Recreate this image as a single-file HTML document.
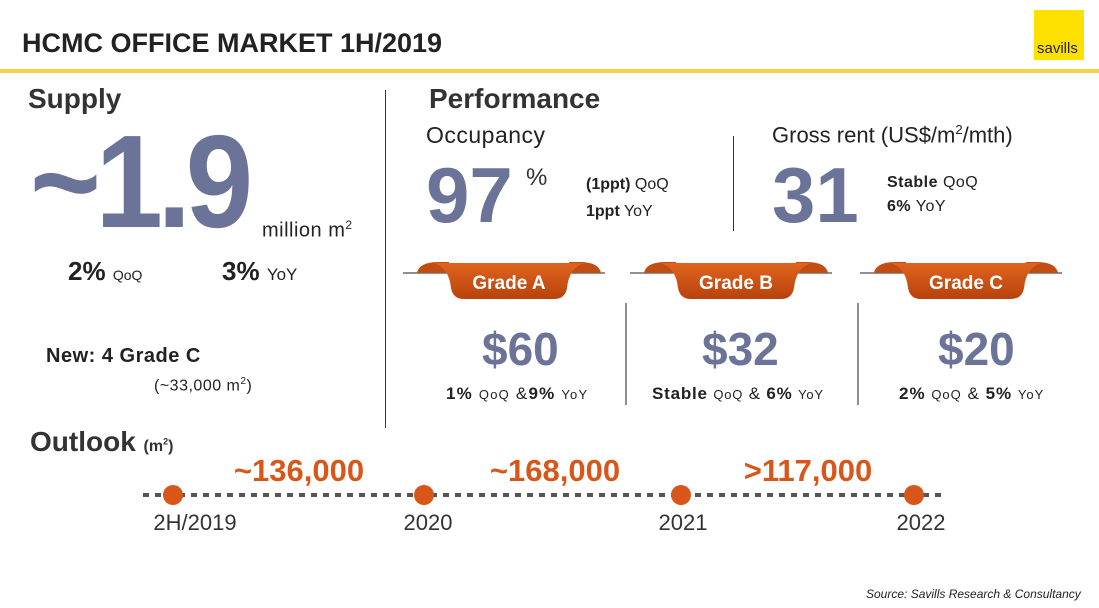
<!DOCTYPE html>
<html><head><meta charset="utf-8"><style>
body{margin:0;width:1099px;height:608px;background:#fff;font-family:"Liberation Sans",Arial,sans-serif;position:relative;overflow:hidden}
.a{position:absolute;white-space:nowrap}
.big{color:#6b7398;font-weight:bold}
.b{font-weight:bold}
.s{font-size:14px}
</style></head><body>
<div class="a b" style="left:22px;top:28px;font-size:27px;color:#222">HCMC OFFICE MARKET 1H/2019</div>
<div class="a" style="left:0;top:69px;width:1099px;height:4px;background:#f5d547"></div>
<div class="a" style="left:1034px;top:10px;width:50px;height:50px;background:#ffe100"><span style="position:absolute;left:3px;bottom:3px;font-size:15px;color:#222">savills</span></div>

<div class="a b" style="left:28px;top:83px;font-size:28px;color:#333">Supply</div>
<div class="a big" style="left:30px;top:112px;font-size:132px;letter-spacing:-6px;line-height:140px;transform:scaleX(0.92);transform-origin:left top">~1.9</div>
<div class="a" style="left:262px;top:218px;font-size:20px;color:#222;letter-spacing:0.5px">million m<sup style="font-size:12px">2</sup></div>
<div class="a" style="left:68px;top:256px;font-size:26px;color:#222"><b>2%</b> <span class="s">QoQ</span></div>
<div class="a" style="left:222px;top:256px;font-size:26px;color:#222"><b>3%</b> <span style="font-size:17px">YoY</span></div>
<div class="a b" style="left:46px;top:345px;font-size:20px;color:#222;letter-spacing:0.5px">New: 4 Grade C</div>
<div class="a" style="left:154px;top:376px;font-size:16px;color:#222;letter-spacing:0.5px">(~33,000 m<sup style="font-size:10px">2</sup>)</div>
<div class="a" style="left:385px;top:90px;width:1px;height:338px;background:#333"></div>

<div class="a b" style="left:429px;top:83px;font-size:28px;color:#333">Performance</div>
<div class="a" style="left:426px;top:122px;font-size:23px;color:#222;letter-spacing:0.5px">Occupancy</div>
<div class="a big" style="left:426px;top:150px;font-size:78px">97</div>
<div class="a" style="left:526px;top:164px;font-size:24px;color:#333">%</div>
<div class="a" style="left:586px;top:176px;font-size:16px;color:#222"><b>(1ppt)</b> QoQ</div>
<div class="a" style="left:586px;top:203px;font-size:16px;color:#222"><b>1ppt</b> YoY</div>
<div class="a" style="left:733px;top:136px;width:1px;height:95px;background:#333"></div>
<div class="a" style="left:772px;top:122px;font-size:22px;color:#222">Gross rent (US$/m<sup style="font-size:13px">2</sup>/mth)</div>
<div class="a big" style="left:772px;top:150px;font-size:78px">31</div>
<div class="a" style="left:887px;top:174px;font-size:16px;color:#222;letter-spacing:0.5px"><b>Stable</b> QoQ</div>
<div class="a" style="left:887px;top:198px;font-size:16px;color:#222;letter-spacing:0.5px"><b>6%</b> YoY</div>

<svg class="a" style="left:0;top:0" width="1099" height="608">
<defs><linearGradient id="g" x1="0" y1="0" x2="0" y2="1"><stop offset="0" stop-color="#e0641f"/><stop offset="1" stop-color="#b8420c"/></linearGradient></defs>
<g id="rib"></g>
<line x1="626" y1="303" x2="626" y2="405" stroke="#222"/>
<line x1="858" y1="303" x2="858" y2="405" stroke="#222"/>
<g id="tl"></g>
</svg>

<div class="a big" style="left:482px;top:322px;font-size:46px">$60</div>
<div class="a" style="left:446px;top:384px;font-size:17px;color:#222;letter-spacing:1.2px"><b>1%</b> <span style="font-size:13px">QoQ</span> &amp;<b>9%</b> <span style="font-size:13px">YoY</span></div>
<div class="a big" style="left:702px;top:322px;font-size:46px">$32</div>
<div class="a" style="left:652px;top:384px;font-size:17px;color:#222;letter-spacing:0.8px"><b>Stable</b> <span style="font-size:13px">QoQ</span> &amp; <b>6%</b> <span style="font-size:13px">YoY</span></div>
<div class="a big" style="left:938px;top:322px;font-size:46px">$20</div>
<div class="a" style="left:899px;top:384px;font-size:17px;color:#222;letter-spacing:1px"><b>2%</b> <span style="font-size:13px">QoQ</span> &amp; <b>5%</b> <span style="font-size:13px">YoY</span></div>

<div class="a b" style="left:30px;top:426px;font-size:28px;color:#333">Outlook <span style="font-size:16px">(m<sup style="font-size:9px">2</sup>)</span></div>
<div class="a" style="left:866px;top:587px;font-size:12px;font-style:italic;color:#222">Source: Savills Research &amp; Consultancy</div>

<script>
const grades=["Grade A","Grade B","Grade C"];
const gradeX=[509,736,966];
const periods=["2H/2019","2020","2021","2022"];
const supplyLabels=["~136,000","~168,000",">117,000"];
const NS="http://www.w3.org/2000/svg";
function mk(t,a,p){const e=document.createElementNS(NS,t);for(const k in a)e.setAttribute(k,a[k]);p.appendChild(e);return e;}
const rib=document.getElementById('rib');
grades.forEach((g,i)=>{const c=gradeX[i];
 mk('line',{x1:c-106,y1:273,x2:c+96,y2:273,stroke:'#222'},rib);
 mk('path',{d:`M${c-92} 273 Q${c-90} 262 ${c-70} 262 L${c-60} 262 L${c-60} 273 Z`,fill:'#c14d12'},rib);
 mk('path',{d:`M${c+92} 273 Q${c+90} 262 ${c+70} 262 L${c+60} 262 L${c+60} 273 Z`,fill:'#c14d12'},rib);
 const b=mk('path',{d:`M${c-75} 263 L${c+75} 263 Q${c+60} 268 ${c+58} 288 Q${c+56} 299 ${c+45} 299 L${c-45} 299 Q${c-56} 299 ${c-58} 288 Q${c-60} 268 ${c-75} 263 Z`,fill:'url(#g)'},rib);
 
 
 const t=mk('text',{x:c,y:289,'text-anchor':'middle','font-size':19,'font-weight':'bold',fill:'#fff','font-family':'Liberation Sans'},rib);t.textContent=g;
 
 
});
const tl=document.getElementById('tl');
const dotX=[173,424,681,914];
const labX=[195,428,683,921];
const supX=[299,555,808];
mk('line',{x1:143,y1:495,x2:945,y2:495,stroke:'#555','stroke-width':4,'stroke-dasharray':'6 6'},tl);
periods.forEach((p,i)=>{const x=dotX[i];
 const d=mk('circle',{cx:x,cy:495,r:10,fill:'#d9561a'},tl);
 
 
 const t=mk('text',{x:labX[i],y:530,'text-anchor':'middle','font-size':22,fill:'#333','font-family':'Liberation Sans'},tl);t.textContent=p;
 
 
});
supplyLabels.forEach((s,i)=>{
 const t=mk('text',{x:supX[i],y:481,'text-anchor':'middle','font-size':31,'font-weight':'bold',fill:'#d9561a','font-family':'Liberation Sans'},tl);t.textContent=s;
 
 
});
</script>
</body></html>
